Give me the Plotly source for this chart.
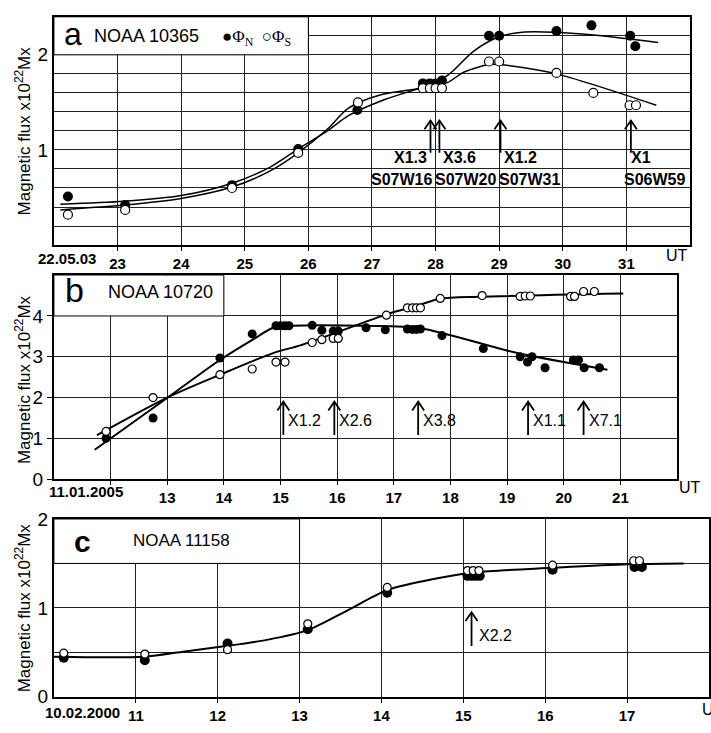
import plotly.graph_objects as go

W, H = 711, 733

# ---------------- Panel a : NOAA 10365 ----------------
a_n_x = [22.22, 23.12, 24.8, 25.84, 26.77, 27.8, 27.91, 28.0, 28.1, 28.84, 29.0, 29.9, 30.45, 31.06, 31.14]
a_n_y = [0.51, 0.42, 0.63, 1.01, 1.42, 1.70, 1.70, 1.70, 1.73, 2.20, 2.20, 2.25, 2.31, 2.20, 2.09]
a_s_x = [22.22, 23.12, 24.8, 25.84, 26.78, 27.8, 27.91, 28.0, 28.1, 28.84, 29.0, 29.9, 30.48, 31.05, 31.15]
a_s_y = [0.32, 0.37, 0.60, 0.97, 1.50, 1.65, 1.65, 1.65, 1.65, 1.93, 1.93, 1.81, 1.60, 1.47, 1.47]
a_fitn_x = [22.1, 23.1, 24.0, 24.8, 25.4, 25.84, 26.3, 26.63, 27.2, 27.88, 28.2, 28.6, 29.0, 29.4, 30.3, 31.5]
a_fitn_y = [0.43, 0.46, 0.52, 0.65, 0.82, 1.01, 1.20, 1.36, 1.53, 1.68, 1.79, 2.04, 2.19, 2.24, 2.22, 2.13]
a_fits_x = [22.1, 23.1, 24.0, 24.8, 25.4, 25.84, 26.3, 26.63, 27.14, 27.88, 28.19, 28.45, 28.86, 29.12, 29.9, 31.47]
a_fits_y = [0.37, 0.42, 0.49, 0.61, 0.78, 0.97, 1.22, 1.44, 1.58, 1.66, 1.71, 1.82, 1.90, 1.89, 1.80, 1.47]
a_ticks = [23, 24, 25, 26, 27, 28, 29, 30, 31]
a_flare_x = [27.92, 28.06, 29.02, 31.07]
a_flare_cls = ["X1.3", "X3.6", "X1.2", "X1"]
a_flare_loc = ["S07W16", "S07W20", "S07W31", "S06W59"]

# ---------------- Panel b : NOAA 10720 ----------------
b_n_x = [11.92, 12.75, 13.93, 14.5, 14.92, 15.0, 15.08, 15.15, 15.56, 15.73, 15.93, 16.02, 16.51, 16.85,
         17.24, 17.33, 17.4, 17.47, 17.85, 18.58, 19.23, 19.36, 19.44, 19.67, 20.17, 20.26, 20.36, 20.63]
b_n_y = [1.0, 1.5, 2.97, 3.56, 3.76, 3.76, 3.76, 3.76, 3.77, 3.65, 3.63, 3.63, 3.71, 3.66,
         3.68, 3.67, 3.67, 3.68, 3.52, 3.20, 3.00, 2.87, 3.00, 2.73, 2.92, 2.92, 2.73, 2.73]
b_s_x = [11.92, 12.75, 13.93, 14.5, 14.92, 15.08, 15.56, 15.73, 15.93, 16.02, 16.87, 17.24, 17.33, 17.4, 17.47,
         17.82, 18.56, 19.23, 19.32, 19.41, 20.12, 20.19, 20.35, 20.54]
b_s_y = [1.17, 2.0, 2.56, 2.70, 2.87, 2.87, 3.35, 3.42, 3.45, 3.45, 4.02, 4.2, 4.2, 4.2, 4.2,
         4.43, 4.50, 4.48, 4.49, 4.49, 4.48, 4.48, 4.60, 4.60]
b_fitn_x = [11.72, 12.9, 13.93, 14.51, 14.87, 15.2, 16.5, 17.47, 19.18, 20.77]
b_fitn_y = [0.72, 1.89, 2.92, 3.42, 3.71, 3.76, 3.76, 3.70, 3.09, 2.68]
b_fits_x = [11.76, 13.0, 13.93, 14.87, 15.35, 16.0, 16.87, 17.4, 17.82, 18.5, 21.05]
b_fits_y = [1.08, 2.0, 2.56, 3.09, 3.28, 3.60, 4.04, 4.25, 4.42, 4.47, 4.55]
b_ticks = [12, 13, 14, 15, 16, 17, 18, 19, 20, 21]
b_ticktext = ["", "13", "14", "15", "16", "17", "18", "19", "20", "21"]
b_flare_x = [15.05, 15.95, 17.43, 19.37, 20.35]
b_flare_cls = ["X1.2", "X2.6", "X3.8", "X1.1", "X7.1"]

# ---------------- Panel c : NOAA 11158 ----------------
c_n_x = [10.12, 11.11, 12.12, 13.1, 14.07, 15.05, 15.1, 15.15, 15.2, 16.09, 17.09, 17.18]
c_n_y = [0.44, 0.41, 0.60, 0.76, 1.17, 1.36, 1.36, 1.36, 1.36, 1.43, 1.46, 1.46]
c_s_x = [10.12, 11.11, 12.12, 13.1, 14.07, 15.05, 15.12, 15.19, 16.09, 17.08, 17.15]
c_s_y = [0.49, 0.48, 0.53, 0.82, 1.23, 1.42, 1.42, 1.42, 1.48, 1.53, 1.53]
c_fit_x = [10.0, 11.1, 11.6, 12.1, 12.6, 13.1, 13.58, 14.07, 14.67, 15.15, 16.1, 17.0, 17.69]
c_fit_y = [0.45, 0.45, 0.51, 0.57, 0.64, 0.75, 0.97, 1.20, 1.33, 1.40, 1.45, 1.49, 1.50]
c_ticks = [11, 12, 13, 14, 15, 16, 17]
c_flare_x = [15.1]
c_flare_cls = ["X2.2"]

FONT = "Liberation Sans, Arial, sans-serif"

# panel geometry in pixels
P = {
    "a": dict(l=54, r=691, t=7, b=242, xr=[22, 32], yr=[0, 2.4]),
    "b": dict(l=54, r=678, t=273, b=483, xr=[11, 22], yr=[0, 5]),
    "c": dict(l=54, r=710, t=524, b=707, xr=[10, 18], yr=[0, 2]),
}
for k, g in P.items():
    g["ppx"] = (g["r"] - g["l"]) / (g["xr"][1] - g["xr"][0])
    g["ppy"] = (g["b"] - g["t"]) / (g["yr"][1] - g["yr"][0])

fig = go.Figure()

def add_panel(xa, ya, fits, n, s, lw, msn, mss):
    for fx, fy in fits:
        fig.add_trace(go.Scatter(x=fx, y=fy, mode="lines", xaxis=xa, yaxis=ya,
                                 line=dict(color="black", width=lw, shape="spline", smoothing=0.8),
                                 showlegend=False, hoverinfo="skip"))
    fig.add_trace(go.Scatter(x=n[0], y=n[1], mode="markers", xaxis=xa, yaxis=ya,
                             marker=dict(color="black", size=msn, line=dict(width=0)), showlegend=False))
    fig.add_trace(go.Scatter(x=s[0], y=s[1], mode="markers", xaxis=xa, yaxis=ya,
                             marker=dict(color="white", size=mss, line=dict(color="black", width=1.2)),
                             showlegend=False))

add_panel("x", "y", [(a_fitn_x, a_fitn_y), (a_fits_x, a_fits_y)], (a_n_x, a_n_y), (a_s_x, a_s_y), 1.5, 10, 9)
add_panel("x2", "y2", [(b_fitn_x, b_fitn_y), (b_fits_x, b_fits_y)], (b_n_x, b_n_y), (b_s_x, b_s_y), 2, 9, 8)
add_panel("x3", "y3", [(c_fit_x, c_fit_y)], (c_n_x, c_n_y), (c_s_x, c_s_y), 2, 10, 8)

def xaxis(g, tickvals, ticktext, anchor):
    return dict(domain=[g["l"] / W, g["r"] / W], range=g["xr"], anchor=anchor,
                tickvals=tickvals, ticktext=ticktext, showgrid=True, gridcolor="#222", gridwidth=1,
                showline=True, linecolor="black", linewidth=2, mirror=True,
                ticks="outside", ticklen=4, tickcolor="black", zeroline=False,
                tickfont=dict(family=FONT, size=15, color="black", weight="bold"))

def yaxis(g, tickvals, minor_dtick, anchor, ticks=""):
    d = dict(domain=[1 - g["b"] / H, 1 - g["t"] / H], range=g["yr"], anchor=anchor,
             tickvals=tickvals, ticktext=[str(v) for v in tickvals], showgrid=True, gridcolor="#222", gridwidth=1,
             showline=True, linecolor="black", linewidth=2, mirror=True,
             ticks=ticks, ticklen=5, tickcolor="black", zeroline=False,
             tickfont=dict(family=FONT, size=19, color="black"))
    if minor_dtick:
        d["minor"] = dict(tick0=0, dtick=minor_dtick, showgrid=True, gridcolor="#222", gridwidth=1, ticks="")
    return d

fig.update_layout(
    width=W, height=H, margin=dict(l=0, r=0, t=0, b=0), autosize=False,
    paper_bgcolor="white", plot_bgcolor="white",
    xaxis=xaxis(P["a"], a_ticks, [str(v) for v in a_ticks], "y"),
    yaxis=yaxis(P["a"], [1, 2], 0.2, "x"),
    xaxis2=xaxis(P["b"], b_ticks, b_ticktext, "y2"),
    yaxis2=yaxis(P["b"], [0, 1, 2, 3, 4], None, "x2", ticks="outside"),
    xaxis3=xaxis(P["c"], c_ticks, [str(v) for v in c_ticks], "y3"),
    yaxis3=yaxis(P["c"], [0, 1, 2], 0.5, "x3"),
)

shapes = []
annots = []

# white title boxes
shapes.append(dict(type="rect", xref="x", yref="y", x0=22, x1=26, y0=2.0, y1=2.4, layer="between",
                   fillcolor="white", line=dict(color="black", width=1)))
shapes.append(dict(type="rect", xref="x2", yref="y2", x0=11, x1=14, y0=4.0, y1=5.0, layer="between",
                   fillcolor="white", line=dict(color="black", width=1)))
shapes.append(dict(type="rect", xref="x3", yref="y3", x0=10, x1=13, y0=1.5, y1=2.0, layer="between",
                   fillcolor="white", line=dict(color="black", width=1)))

def arrow(xr, yr, g, x, y_tail, y_tip, lw=1.8):
    dx = 6 / g["ppx"]
    dy = 9 / g["ppy"]
    shapes.append(dict(type="line", xref=xr, yref=yr, x0=x, x1=x, y0=y_tail, y1=y_tip,
                       line=dict(color="black", width=lw)))
    shapes.append(dict(type="path", xref=xr, yref=yr,
                       path=f"M {x - dx},{y_tip - dy} L {x},{y_tip} L {x + dx},{y_tip - dy}",
                       line=dict(color="black", width=lw)))

# panel a arrows and labels
for x in a_flare_x:
    arrow("x", "y", P["a"], x, 0.97, 1.31)
a_cls_pos = [27.6, 28.37, 29.33, 31.23]
a_loc_pos = [27.46, 28.47, 29.48, 31.44]
for i in range(len(a_flare_x)):
    annots.append(dict(xref="x", yref="y", x=a_cls_pos[i], y=0.92, text=a_flare_cls[i], showarrow=False,
                       font=dict(family=FONT, size=16, color="black", weight="bold")))
    annots.append(dict(xref="x", yref="y", x=a_loc_pos[i], y=0.69, text=a_flare_loc[i], showarrow=False,
                       font=dict(family=FONT, size=16, color="black", weight="bold")))

# panel b arrows and labels
for x, t in zip(b_flare_x, b_flare_cls):
    arrow("x2", "y2", P["b"], x, 1.08, 1.9)
    annots.append(dict(xref="x2", yref="y2", x=x, y=1.43, text=t, showarrow=False, xanchor="left", xshift=3,
                       font=dict(family=FONT, size=16, color="black")))

# panel c arrows and labels
for x, t in zip(c_flare_x, c_flare_cls):
    arrow("x3", "y3", P["c"], x, 0.57, 0.95)
    annots.append(dict(xref="x3", yref="y3", x=x, y=0.69, text=t, showarrow=False, xanchor="left", xshift=5,
                       font=dict(family=FONT, size=16, color="black")))

def pa(px, py, text, size, xanchor="center", weight="normal", family=FONT, angle=0):
    annots.append(dict(xref="paper", yref="paper", x=px / W, y=1 - py / H, text=text, showarrow=False,
                       xanchor=xanchor, yanchor="middle", textangle=angle,
                       font=dict(family=family, size=size, color="black", weight=weight)))

# panel titles
pa(73, 25, "a", 32)
pa(92, 27, "NOAA 10365", 18, xanchor="left")
pa(220, 29, "●Φ<sub>N</sub>  ○Φ<sub>S</sub>", 17, xanchor="left", family="Liberation Serif, serif")
pa(75, 288, "b", 34)
pa(106, 290, "NOAA 10720", 18, xanchor="left")
pa(83, 547, "c", 30, weight="bold")
pa(131, 546, "NOAA 11158", 17, xanchor="left")

# y axis titles
ytitle = "Magnetic flux x10<sup>22</sup>Mx"
pa(23, 124, ytitle, 17, angle=-90)
pa(23, 380, ytitle, 17, angle=-90)
pa(23, 615, ytitle, 17, angle=-90)

# first date labels and UT labels
pa(67, 256, "22.05.03", 15, weight="bold")
pa(86, 496, "11.01.2005", 15, weight="bold")
pa(83, 723, "10.02.2000", 15, weight="bold")
pa(678, 253, "UT", 16)
pa(691, 492, "UT", 16)
pa(701, 720, "UT", 16, xanchor="left")

fig.update_layout(shapes=shapes, annotations=annots)
fig.write_html("out.html", config={"displayModeBar": False},
               post_script="document.body.style.margin='0px';document.body.style.padding='0px';"
                           "document.body.style.overflow='hidden';")
